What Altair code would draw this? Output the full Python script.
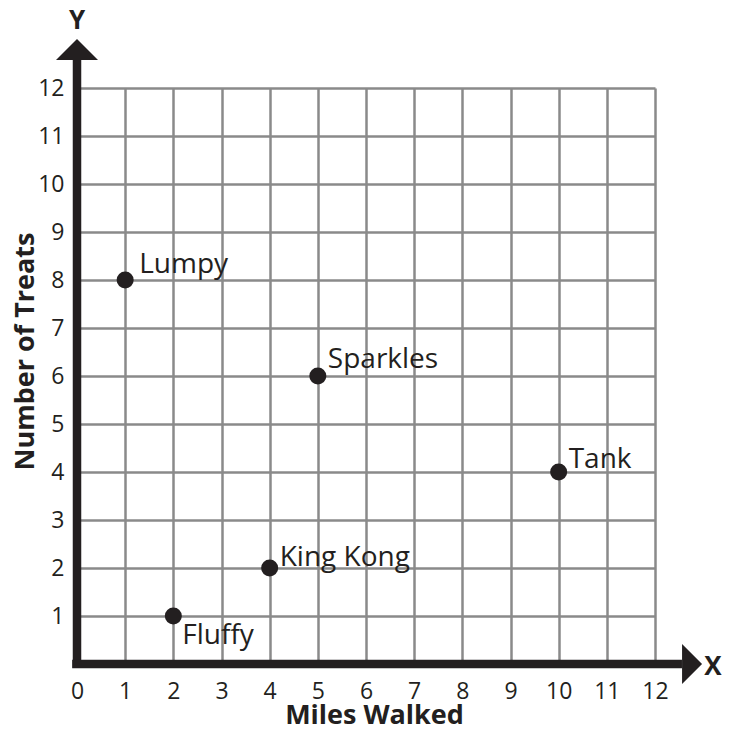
import altair as alt
import pandas as pd

# ---- data ----
names = ["Lumpy", "Fluffy", "King Kong", "Sparkles", "Tank"]
miles = [1, 2, 4, 5, 10]
treats = [8, 1, 2, 6, 4]
x_ticks = list(range(0, 13))
y_ticks = list(range(1, 13))

# label offsets (pixels) - style, not data
label_offsets = {
    "Lumpy": (14, -7),
    "Fluffy": (9, 28),
    "King Kong": (10, -2),
    "Sparkles": (10, -8),
    "Tank": (10, -4),
}

INK = "#231f20"
FONT = "Open Sans"

df = pd.DataFrame({"name": names, "miles": miles, "treats": treats})

xs = alt.Scale(domain=[0, 12], nice=False, zero=False)
ys = alt.Scale(domain=[0, 12], nice=False, zero=False)

base = alt.Chart(df)

xaxis = alt.Axis(
    values=x_ticks, grid=True, gridColor="#8a8a8a", gridWidth=2.5, gridOpacity=1,
    domain=False, ticks=False, tickSize=0, labelPadding=34, labelBaseline="alphabetic",
    labelFontSize=23, labelFont=FONT, labelColor=INK, labelFlush=False,
    title="Miles Walked", titleFont=FONT, titleFontSize=27, titleFontWeight="bold",
    titleColor=INK, titleX=297, titleY=59, titleBaseline="alphabetic", titleAlign="center",
)
yaxis = alt.Axis(
    values=list(range(0, 13)), grid=True, gridColor="#8a8a8a", gridWidth=2.5, gridOpacity=1,
    domain=False, ticks=False, tickSize=0, labelPadding=13,
    labelFontSize=23, labelFont=FONT, labelColor=INK, labelFlush=False,
    labelExpr="datum.value == 0 ? '' : datum.label",
    title="Number of Treats", titleFont=FONT, titleFontSize=27, titleFontWeight="bold",
    titleColor=INK, titleX=-44, titleY=263, titleBaseline="alphabetic", titleAlign="center",
    titleAngle=270,
)

points = base.mark_point(filled=True, size=290, opacity=1, color=INK, strokeWidth=0).encode(
    x=alt.X("miles:Q", scale=xs, axis=xaxis),
    y=alt.Y("treats:Q", scale=ys, axis=yaxis),
)

texts = []
for n in names:
    dx, dy = label_offsets[n]
    texts.append(
        base.transform_filter(alt.datum.name == n)
        .mark_text(align="left", baseline="alphabetic", dx=dx, dy=dy,
                   fontSize=28, font=FONT, color=INK)
        .encode(x=alt.X("miles:Q", scale=xs), y=alt.Y("treats:Q", scale=ys), text="name:N")
    )

# ---- axis arrows (extents in data units) ----
yline = pd.DataFrame({"x": [0], "y": [-0.08], "y2": [12.6]})
xline = pd.DataFrame({"x": [-0.1], "x2": [12.56], "y": [0]})
y_rule = alt.Chart(yline).mark_rule(color=INK, strokeWidth=8.5).encode(
    x=alt.X("x:Q", scale=xs), y=alt.Y("y:Q", scale=ys), y2="y2:Q")
x_rule = alt.Chart(xline).mark_rule(color=INK, strokeWidth=8.5).encode(
    x=alt.X("x:Q", scale=xs), x2="x2:Q", y=alt.Y("y:Q", scale=ys))

yhead = pd.DataFrame({"x": [0], "y": [12.80]})
xhead = pd.DataFrame({"x": [12.77], "y": [0]})
y_arrow = alt.Chart(yhead).mark_point(
    shape="M0,-0.5L1,0.5L-1,0.5Z", size=1764, filled=True, color=INK, opacity=1, strokeWidth=0
).encode(x=alt.X("x:Q", scale=xs), y=alt.Y("y:Q", scale=ys))
x_arrow = alt.Chart(xhead).mark_point(
    shape="M-0.5,-1L0.5,0L-0.5,1Z", size=1600, filled=True, color=INK, opacity=1, strokeWidth=0
).encode(x=alt.X("x:Q", scale=xs), y=alt.Y("y:Q", scale=ys))

axis_names = pd.DataFrame({"lab": ["Y", "X"], "x": [0, 13.2], "y": [13.23, -0.23]})
axis_letters = alt.Chart(axis_names).mark_text(
    align="center", baseline="alphabetic", fontSize=26, fontWeight="bold", font=FONT, color=INK
).encode(x=alt.X("x:Q", scale=xs), y=alt.Y("y:Q", scale=ys), text="lab:N")

chart = alt.layer(
    points, *texts, y_rule, x_rule, y_arrow, x_arrow, axis_letters
).properties(
    width=578, height=576,
    autosize=alt.AutoSizeParams(type="none"),
    padding={"left": 69, "top": 80, "right": 67, "bottom": 60},
).configure_view(stroke=None, clip=False)

chart.save("out.html", embed_options={"renderer": "svg", "actions": False})
